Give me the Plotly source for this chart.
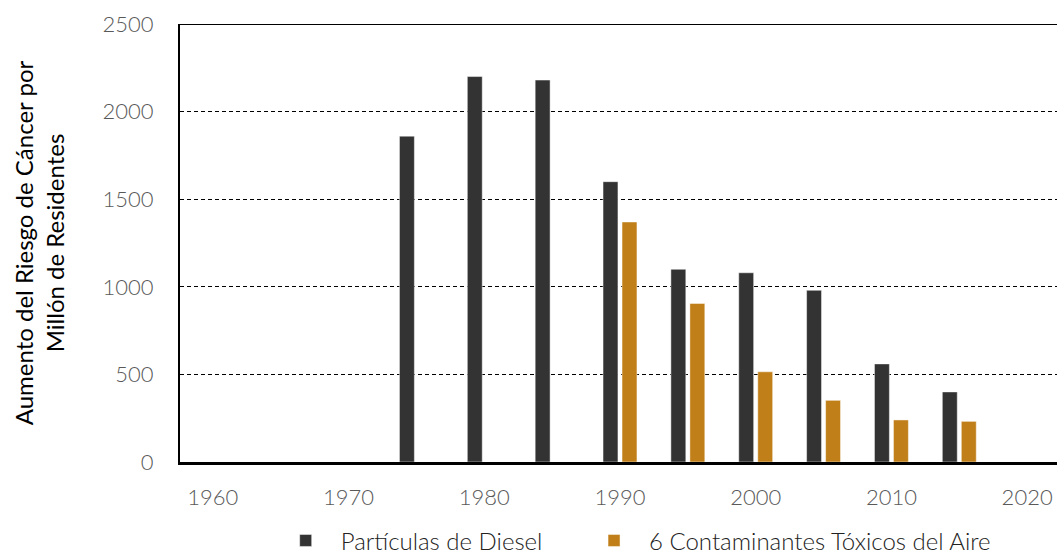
import plotly.graph_objects as go

years_diesel = [1975, 1980, 1985, 1990, 1995, 2000, 2005, 2010, 2015]
diesel = [1860, 2200, 2180, 1600, 1100, 1080, 980, 560, 400]
years_toxic = [1990, 1995, 2000, 2005, 2010, 2015]
toxic = [1370, 905, 515, 352, 240, 232]

x_ticks = [1960, 1970, 1980, 1990, 2000, 2010, 2020]
y_ticks = [0, 500, 1000, 1500, 2000, 2500]

FONT = "Lato"

fig = go.Figure()
fig.add_trace(go.Bar(
    x=years_diesel, y=diesel, name="Partículas de Diesel", legend="legend",
    width=1.1, offset=-1.25,
    marker=dict(color="#333333", line=dict(color="rgba(255,255,255,0.6)", width=0.8)),
))
fig.add_trace(go.Bar(
    x=years_toxic, y=toxic, name="6 Contaminantes Tóxicos del Aire", legend="legend2",
    width=1.1, offset=0.15,
    marker=dict(color="#C07F18", line=dict(color="rgba(255,255,255,0.6)", width=0.8)),
))

fig.add_shape(type="line", xref="paper", yref="y", x0=0, x1=1, y0=2500, y1=2500,
              line=dict(color="black", width=2))

legend_font = dict(size=24, color="#222222", family=FONT, weight=300)

fig.update_layout(
    width=1057, height=554,
    margin=dict(l=180, r=0, t=24, b=92, autoexpand=False),
    plot_bgcolor="white", paper_bgcolor="white",
    barmode="overlay",
    font=dict(family=FONT, color="#595959"),
    showlegend=True,
    legend=dict(orientation="h", x=0.1034, xanchor="left", y=-0.18, yanchor="middle",
                font=legend_font, itemwidth=60),
    legend2=dict(orientation="h", x=0.455, xanchor="left", y=-0.18, yanchor="middle",
                 font=legend_font, itemwidth=60),
    xaxis=dict(
        range=[1957.58, 2022.2], tickvals=x_ticks, ticktext=[str(v) for v in x_ticks],
        showgrid=False, zeroline=False, showline=True, linecolor="black", linewidth=3,
        ticks="", tickfont=dict(size=22, color="#595959", family=FONT, weight=300),
        ticklabelstandoff=14, automargin=False,
    ),
    yaxis=dict(
        range=[0, 2500], tickvals=y_ticks, ticktext=[str(v) for v in y_ticks],
        showgrid=True, gridcolor="black", gridwidth=1, griddash="4px,3px",
        zeroline=False, showline=True, linecolor="black", linewidth=2,
        ticks="", tickfont=dict(size=22, color="#595959", family=FONT, weight=300),
        ticklabelstandoff=20, automargin=False,
        title=dict(text="Aumento del Riesgo de Cáncer por<br>Millón de Residentes",
                   font=dict(size=24, color="black", family=FONT), standoff=31),
    ),
)

fig.write_html(
    "out.html",
    config={"displayModeBar": False},
    post_script="document.body.style.margin='0';document.body.style.overflow='hidden';",
)
